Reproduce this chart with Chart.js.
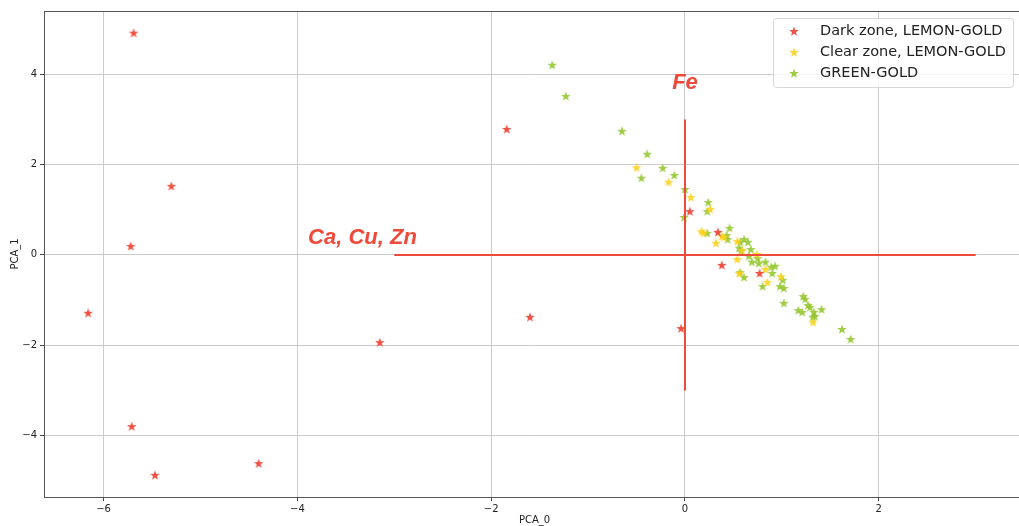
<!DOCTYPE html>
<html>
<head>
<meta charset="utf-8">
<script src="https://cdn.jsdelivr.net/npm/chart.js@4"></script>
<style>
  html, body { margin: 0; padding: 0; background: #fff; overflow: hidden; }
  #wrap { width: 1030px; height: 526px; }
</style>
</head>
<body>
<div id="wrap"><canvas id="pca"></canvas></div>
<script>
// Daten
const darkX = [-5.69, -5.30, -5.72, -6.16, -5.71, -5.47, -4.40, -3.15, -1.84, -1.60, -0.04, 0.05, 0.34, 0.38, 0.77];
const darkY = [4.92, 1.53, 0.20, -1.28, -3.79, -4.87, -4.61, -1.93, 2.79, -1.37, -1.62, 0.97, 0.51, -0.22, -0.40];

const clearX = [-0.50, -0.17, 0.06, 0.26, 0.17, 0.19, 0.32, 0.38, 0.40, 0.54, 0.54, 0.59, 0.74, 0.83, 0.85, 0.99, 1.32, 0.56];
const clearY = [1.94, 1.62, 1.28, 1.02, 0.53, 0.49, 0.27, 0.42, 0.40, 0.31, -0.09, 0.11, 0.02, -0.31, -0.60, -0.47, -1.48, -0.40];

const greenX = [-1.37, -1.23, -0.65, -0.39, -0.23, -0.45, -0.11, 0.00, -0.01, 0.24, 0.23, 0.23, 0.46, 0.43, 0.44, 0.57, 0.61, 0.65,
  0.56, 0.58, 0.68, 0.66, 0.69, 0.75, 0.76, 0.83, 0.89, 0.93, 0.90, 0.57, 0.61, 0.80, 1.01, 0.98, 1.02, 1.02, 1.22, 1.24, 1.27,
  1.29, 1.17, 1.21, 1.33, 1.34, 1.32, 1.41, 1.62, 1.71];
const greenY = [4.21, 3.52, 2.75, 2.24, 1.93, 1.71, 1.77, 1.46, 0.84, 1.17, 0.97, 0.49, 0.60, 0.44, 0.35, 0.29, 0.35, 0.29,
  0.16, 0.09, 0.13, -0.02, -0.15, -0.07, -0.18, -0.15, -0.26, -0.24, -0.40, -0.38, -0.49, -0.69, -0.55, -0.69, -0.73, -1.06, -0.91, -0.97, -1.11,
  -1.15, -1.22, -1.26, -1.26, -1.35, -1.37, -1.20, -1.64, -1.86];

const seriesNames = ['Dark zone, LEMON-GOLD', 'Clear zone, LEMON-GOLD', 'GREEN-GOLD'];
const xTicks = [-6, -4, -2, 0, 2];
const yTicks = [-4, -2, 0, 2, 4];

// Hilfslinien + Beschriftung
const guideX = [-3, 3];
const guideY = [-3, 3];
const labelFe = { text: 'Fe', x: 0, y: 3.8 };
const labelCa = { text: 'Ca, Cu, Zn', x: -3.89, y: 0.37 };

const colDark = 'rgba(236,64,48,0.9)';
const colClear = 'rgba(252,210,30,0.9)';
const colGreen = 'rgba(150,198,50,0.9)';
const guideCol = '#ee4a3c';

// gefüllter Stern als Marker
function starImg(color) {
  const s = 12, c = document.createElement('canvas');
  c.width = s; c.height = s;
  const g = c.getContext('2d');
  const R = 5, r = 2.1;
  g.beginPath();
  for (let i = 0; i < 10; i++) {
    const a = -Math.PI / 2 + i * Math.PI / 5;
    const rad = i % 2 ? r : R;
    g.lineTo(s / 2 + rad * Math.cos(a), s / 2 + 0.6 + rad * Math.sin(a));
  }
  g.closePath();
  g.fillStyle = color;
  g.fill();
  return c;
}

const toPts = (xs, ys) => xs.map((x, i) => ({ x: x, y: ys[i] }));
const fmt = v => (v < 0 ? '\u2212' + Math.abs(v) : String(v));

const boxPlugin = {
  id: 'extras',
  afterDatasetsDraw(chart) {
    const ctx = chart.ctx, a = chart.chartArea;
    const xs = chart.scales.x, ys = chart.scales.y;
    ctx.save();
    // rote Achsen
    ctx.strokeStyle = guideCol;
    ctx.lineWidth = 2;
    ctx.beginPath();
    ctx.moveTo(xs.getPixelForValue(guideX[0]), ys.getPixelForValue(0));
    ctx.lineTo(xs.getPixelForValue(guideX[1]), ys.getPixelForValue(0));
    ctx.moveTo(xs.getPixelForValue(0), ys.getPixelForValue(guideY[0]));
    ctx.lineTo(xs.getPixelForValue(0), ys.getPixelForValue(guideY[1]));
    ctx.stroke();
    ctx.fillStyle = guideCol;
    ctx.font = 'italic bold 22px "Liberation Sans", Arial, sans-serif';
    ctx.textBaseline = 'middle';
    ctx.textAlign = 'center';
    ctx.fillText(labelFe.text, xs.getPixelForValue(labelFe.x), ys.getPixelForValue(labelFe.y));
    ctx.textAlign = 'left';
    ctx.fillText(labelCa.text, xs.getPixelForValue(labelCa.x), ys.getPixelForValue(labelCa.y));

    // Rahmen
    ctx.strokeStyle = '#555';
    ctx.lineWidth = 1;
    ctx.strokeRect(a.left + 0.5, a.top + 0.5, a.right - a.left, a.bottom - a.top);

    // Legende
    const lx = 773, ly = 18, lw = 240, lh = 69;
    ctx.fillStyle = 'rgba(255,255,255,0.8)';
    ctx.strokeStyle = '#d6d6d6';
    ctx.beginPath();
    ctx.roundRect(lx + 0.5, ly + 0.5, lw, lh, 3);
    ctx.fill();
    ctx.stroke();
    ctx.font = '14.5px "DejaVu Sans", sans-serif';
    ctx.textAlign = 'left';
    ctx.textBaseline = 'middle';
    chart.data.datasets.forEach((ds, i) => {
      const yy = ly + 13 + i * 21;
      ctx.drawImage(ds.pointStyle, 794 - 6, yy - 6);
      ctx.fillStyle = '#222';
      ctx.fillText(ds.label, 820, yy);
    });
    ctx.restore();
  }
};

new Chart(document.getElementById('pca'), {
  type: 'scatter',
  data: {
    datasets: [
      { label: seriesNames[0], data: toPts(darkX, darkY), pointStyle: starImg(colDark) },
      { label: seriesNames[1], data: toPts(clearX, clearY), pointStyle: starImg(colClear) },
      { label: seriesNames[2], data: toPts(greenX, greenY), pointStyle: starImg(colGreen) }
    ]
  },
  options: {
    responsive: true,
    maintainAspectRatio: false,
    animation: false,
    layout: { padding: { top: 11, right: 0, left: 0, bottom: 0 } },
    plugins: { legend: { display: false }, tooltip: { enabled: false } },
    scales: {
      x: {
        type: 'linear',
        min: -6.615, max: 3.509,
        afterBuildTicks: s => { s.ticks = xTicks.map(v => ({ value: v })); },
        afterFit: s => { s.height = 29; s.paddingLeft = 0; s.paddingRight = 0; },
        grid: { color: '#cbcbcb', tickColor: '#444', tickLength: 4, drawTicks: true },
        border: { display: false },
        ticks: { callback: v => fmt(v), color: '#222', padding: 2, maxRotation: 0, font: { family: 'DejaVu Sans', size: 10 } },
        title: { display: true, text: 'PCA_0', color: '#222', padding: { top: 0, bottom: 0 }, font: { family: 'DejaVu Sans', size: 10 } }
      },
      y: {
        type: 'linear',
        min: -5.36, max: 5.40,
        afterBuildTicks: s => { s.ticks = yTicks.map(v => ({ value: v })); },
        afterFit: s => { s.width = 44; s.paddingTop = 0; s.paddingBottom = 0; },
        grid: { color: '#cbcbcb', tickColor: '#444', tickLength: 4, drawTicks: true },
        border: { display: false },
        ticks: { callback: v => fmt(v), color: '#222', padding: 3, font: { family: 'DejaVu Sans', size: 10 } },
        title: { display: true, text: 'PCA_1', color: '#222', padding: { top: 9, bottom: 0 }, font: { family: 'DejaVu Sans', size: 10 } }
      }
    }
  },
  plugins: [boxPlugin]
});
</script>
</body>
</html>
